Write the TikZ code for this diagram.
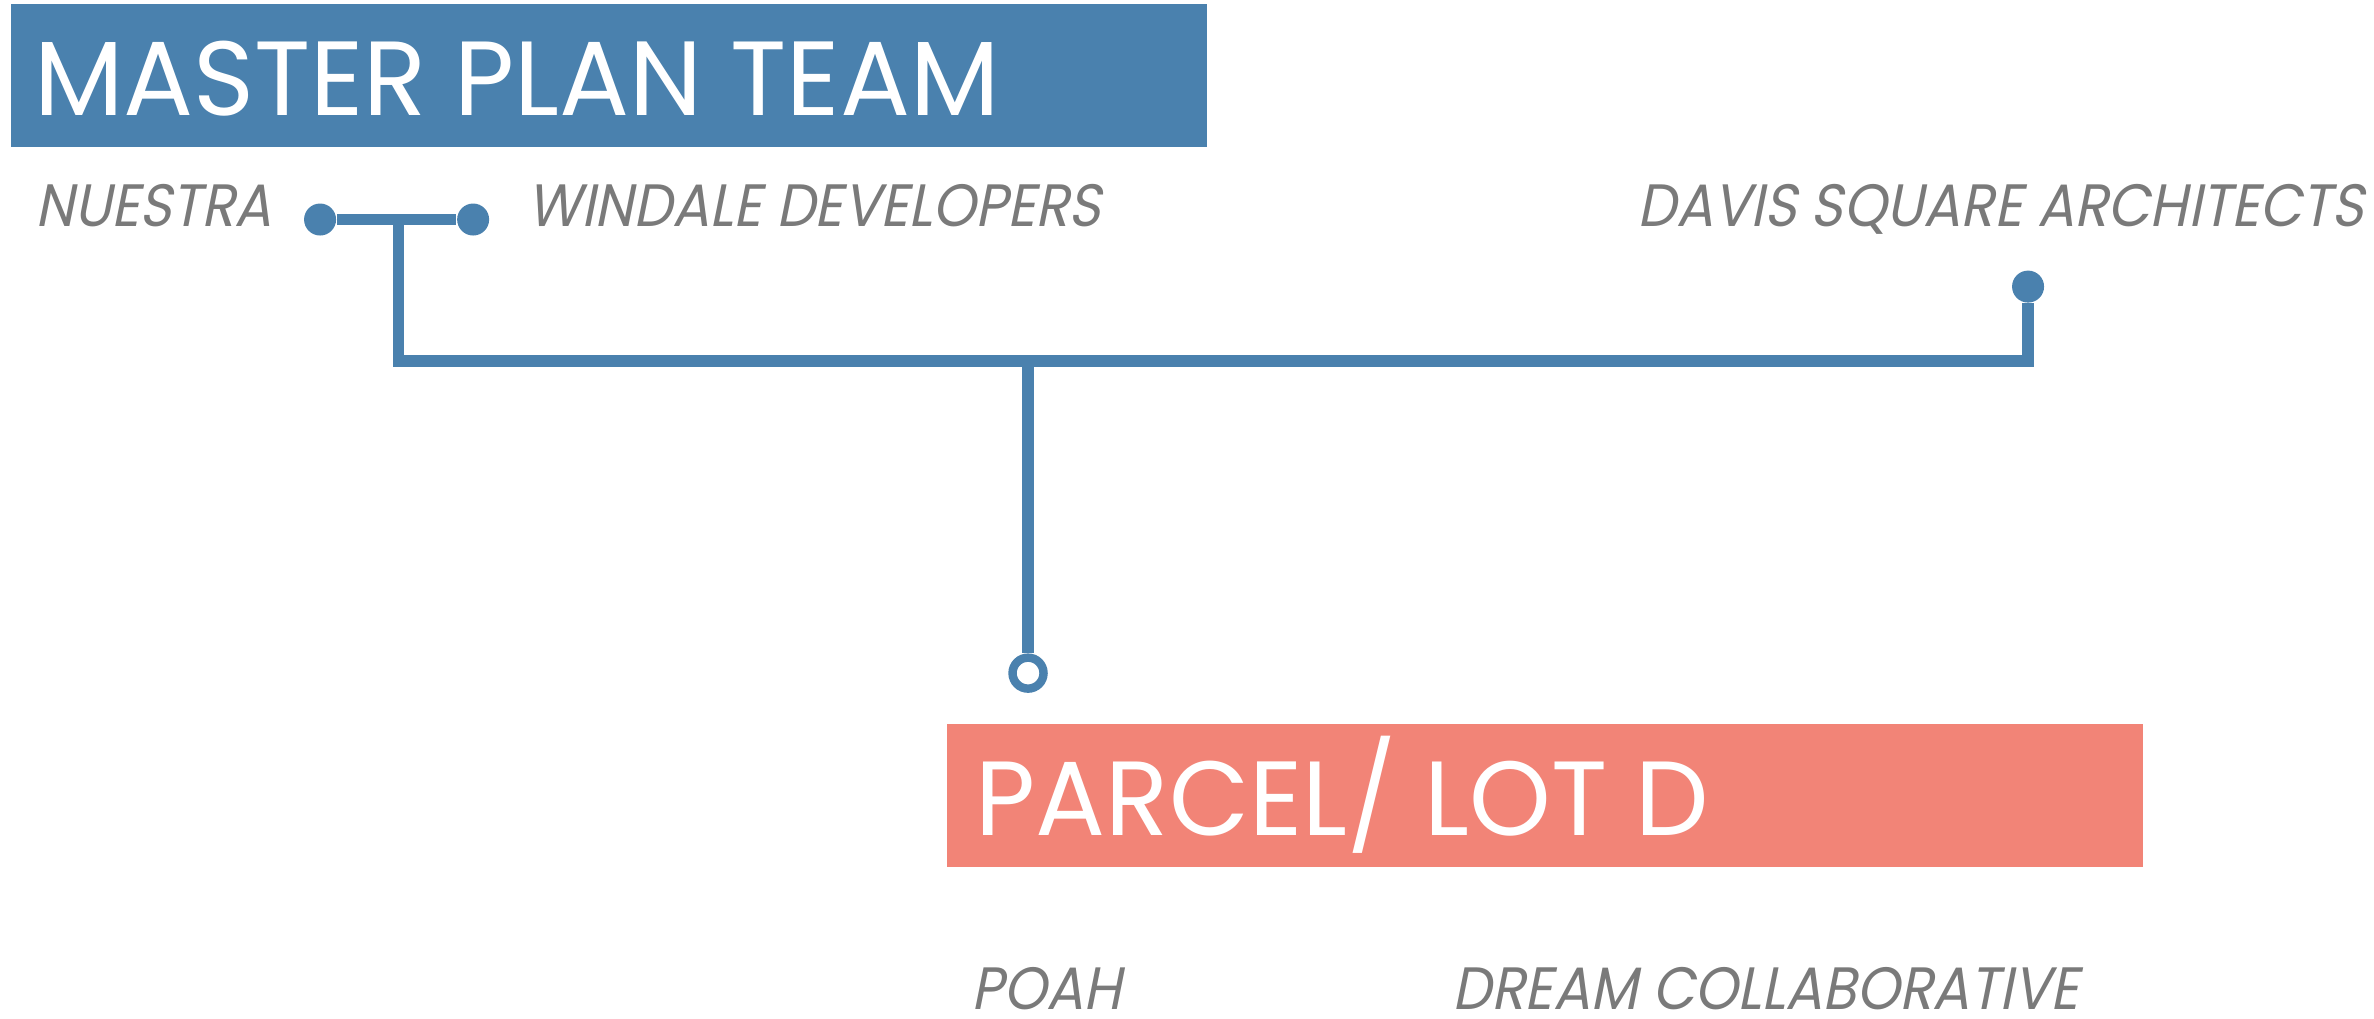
\documentclass[tikz,border=0pt]{standalone}
\usepackage{fontspec}
\newfontfamily\titlefont[FakeStretch=0.985]{Poppins}
\newfontfamily\namefont[FakeSlant=0.2, FakeStretch=0.92]{Poppins}
\usetikzlibrary{positioning}
\definecolor{planblue}{HTML}{4A81AE}
\definecolor{parcelred}{HTML}{F28477}
\definecolor{namegray}{HTML}{7A7A7A}
\tikzset{
  headbox/.style={inner sep=0pt, anchor=north west, minimum height=1.43cm},
  headtext/.style={text=white, font=\titlefont\fontsize{30}{36}\selectfont, inner sep=0pt, anchor=base west},
  nametext/.style={text=namegray, font=\namefont\fontsize{17}{20}\selectfont, inner sep=0pt, anchor=base west},
  link/.style={draw=planblue, line width=3.2pt},
  knob/.style={circle, fill=planblue, inner sep=0pt, minimum size=0.32cm},
  socket/.style={circle, draw=planblue, fill=white, line width=2.4pt, inner sep=0pt, minimum size=0.31cm}
}
\begin{document}
\begin{tikzpicture}[x=0.01514cm, y=-0.01514cm]
        \useasboundingbox (0,0) rectangle (1568,673);
        % boxes
        \node (master) [headbox, fill=planblue, minimum width=11.95cm] at (7,2) {};
        \node (parcel) [headbox, fill=parcelred, minimum width=11.96cm] at (625,478) {};
        \node (mastertext) [headtext] at (22,76.6) {MASTER PLAN TEAM};
        \node (parceltext) [headtext] at (644,551.6) {PARCEL/ LOT D};
        % names
        \node (nuestra) [nametext] at (23,149.7) {NUESTRA};
        \node (windale) [nametext] at (348,149.7) {WINDALE DEVELOPERS};
        \node (davis) [nametext] at (1081,149.7) {DAVIS SQUARE ARCHITECTS};
        \node (poah) [nametext] at (641,667) {POAH};
        \node (dream) [nametext] at (959,667) {DREAM COLLABORATIVE};
        % links
        \node (nuestradot) [knob] at (211.4,145) {};
        \node (windaledot) [knob] at (312.5,145) {};
        \node (davisdot) [knob] at (1339.5,189.3) {};
        \node (parcelsocket) [socket] at (679,444.6) {};
        \coordinate (teamjoin) at (263,145);
        \coordinate (teamcorner) at (263,238.5);
        \coordinate (daviscorner) at (1339.5,238.5);
        \coordinate (parceljoin) at (679,238.5);
        \draw[link] (nuestradot) -- (windaledot);
        \draw[link] (teamjoin) -- (teamcorner) -- (daviscorner) -- (davisdot);
        \draw[link] (parceljoin) -- (parcelsocket);
\end{tikzpicture}
\end{document}
